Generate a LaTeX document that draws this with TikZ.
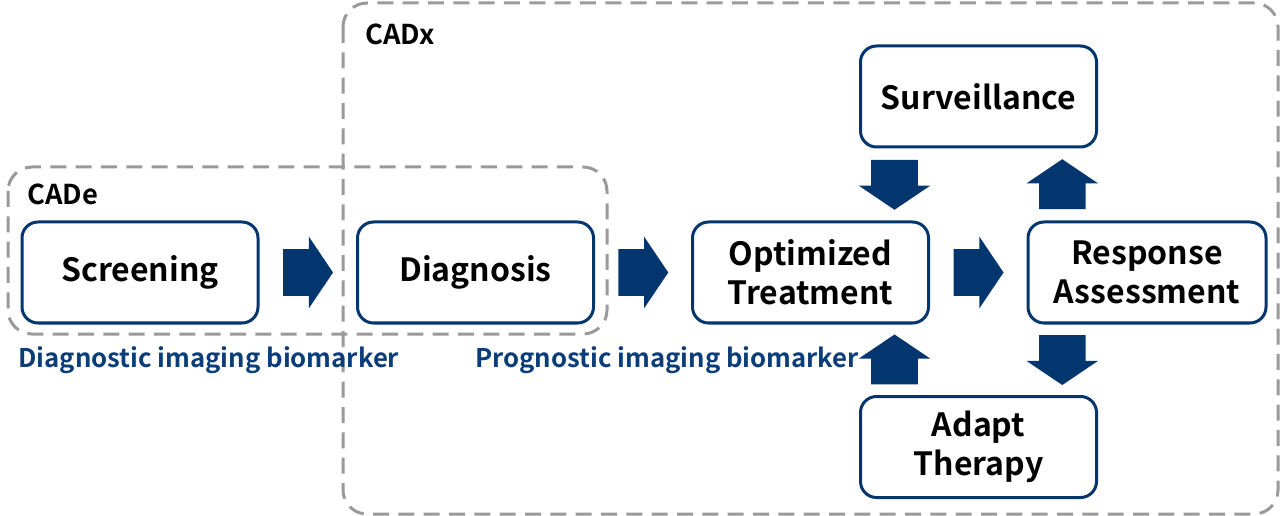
\documentclass[tikz,border=0pt]{standalone}
\usepackage{fontspec}
\setmainfont{Noto Sans CJK JP}[BoldFont={Noto Sans CJK JP Bold}]
\usetikzlibrary{shapes.arrows,calc}
\definecolor{navy}{HTML}{03366F}
\definecolor{labelblue}{HTML}{0B3D78}
\definecolor{dashgray}{HTML}{9A9A9A}
\tikzset{
  stage/.style={draw=navy, line width=2.25pt, rounded corners=12pt, fill=white,
    minimum width=177pt, minimum height=75.75pt, align=center,
    font=\fontsize{24}{29.25}\selectfont\bfseries},
  bigarrow/.style={single arrow, fill=navy, inner xsep=0pt, inner ysep=17.25pt,
    minimum height=37.5pt, single arrow head extend=9.375pt,
    single arrow tip angle=112, anchor=tail},
  group/.style={draw=dashgray, line width=2.25pt, dash pattern=on 12pt off 7pt,
    rounded corners=18pt},
  grouplabel/.style={anchor=base west, inner sep=0pt,
    font=\fontsize{20.5}{24}\selectfont\bfseries},
  biomarker/.style={anchor=base west, inner sep=0pt, text=labelblue,
    font=\fontsize{19.3}{23}\selectfont\bfseries}
}
\begin{document}
\begin{tikzpicture}[x=0.75pt, y=-0.75pt]
  \useasboundingbox (0,0) rectangle (1280,516);
  % dashed groups
  \draw[group] (8,167) rectangle (607,334);
  \draw[group] (343,3) rectangle (1278,514);
  \node[grouplabel] (cade) at (27,205) {CADe};
  \node[grouplabel] (cadx) at (365,45) {CADx};

  % stages
  \node[stage] (screen) at (140,272.5) {Screening};
  \node[stage] (diag) at (475.5,272.5) {Diagnosis};
  \node[stage] (opt) at (810.5,272.5) {Optimized\\Treatment};
  \node[stage, minimum width=178.5pt] (resp) at (1147,272.5) {Response\\Assessment};
  \node[stage] (surv) at (978.5,96.5) {Surveillance};
  \node[stage] (adapt) at (978.5,447) {Adapt\\Therapy};

  % biomarker labels
  \node[biomarker] (dib) at (18,367) {Diagnostic imaging biomarker};
  \node[biomarker] (pib) at (475,367) {Prognostic imaging biomarker};

  % block arrows between the stages (tail placed 25px before the gap middle)
  \node[bigarrow] (a1) at ($(screen.east)!0.5!(diag.west)+(-25,0)$) {};
  \node[bigarrow] (a2) at ($(diag.east)!0.5!(opt.west)+(-25,0)$) {};
  \node[bigarrow] (a3) at ($(opt.east)!0.5!(resp.west)+(-25,0)$) {};
  \node[bigarrow, rotate=90] (a4) at ($(resp.north west)!0.5!(surv.south east)+(0,25)$) {};
  \node[bigarrow, rotate=-90] (a5) at ($(surv.south west)!0.5!(opt.north east)+(0,-25)$) {};
  \node[bigarrow, rotate=-90] (a6) at ($(resp.south west)!0.5!(adapt.north east)+(0,-25)$) {};
  \node[bigarrow, rotate=90] (a7) at ($(adapt.north west)!0.5!(opt.south east)+(0,25)$) {};
\end{tikzpicture}
\end{document}
